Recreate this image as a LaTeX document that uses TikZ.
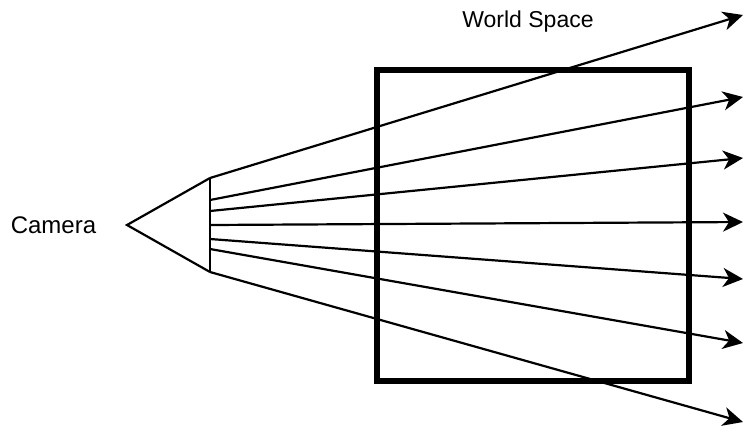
\documentclass[tikz,border=0pt]{standalone}
\usepackage{fontspec}
\setmainfont{Liberation Sans}
\usetikzlibrary{arrows.meta,positioning}

\begin{document}
\begin{tikzpicture}[
    x=1pt, y=-1pt,
    lbl/.style={font=\fontsize{24}{29}\selectfont, inner sep=0pt},
    ray/.style={-{Stealth[length=20pt, width=19pt, inset=6pt]}, line width=2.2pt},
    lens/.style={line width=2.2pt, line join=miter},
    worldbox/.style={draw, line width=5.5pt, minimum width=312pt, minimum height=311pt, inner sep=0pt}
]
\useasboundingbox (0,0) rectangle (744,432);

% camera
\coordinate (apex) at (127,225);
\coordinate (ltop) at (210,178);
\coordinate (lbot) at (210,272);
\draw[lens] (ltop) -- (apex) -- (lbot);
\draw[lens] (ltop) -- (lbot);
\node[lbl] (cam) at (53.5,225) {Camera};

% world
\node[worldbox] (world) at (533,225.5) {};
\node[lbl, font=\fontsize{23}{28}\selectfont] (ws) at (528,22) {World Space};

% ray origins on the lens
\coordinate (o1) at (210,178);
\coordinate (o2) at (210,200);
\coordinate (o3) at (210,211);
\coordinate (o4) at (210,225);
\coordinate (o5) at (210,239);
\coordinate (o6) at (210,249);
\coordinate (o7) at (210,272);

% ray ends
\coordinate (e1) at (743,15);
\coordinate (e2) at (743,97);
\coordinate (e3) at (743,158);
\coordinate (e4) at (743,222);
\coordinate (e5) at (743,279);
\coordinate (e6) at (743,343);
\coordinate (e7) at (743,422);

\draw[ray] (o1) -- (e1);
\draw[ray] (o2) -- (e2);
\draw[ray] (o3) -- (e3);
\draw[ray] (o4) -- (e4);
\draw[ray] (o5) -- (e5);
\draw[ray] (o6) -- (e6);
\draw[ray] (o7) -- (e7);
\end{tikzpicture}
\end{document}
